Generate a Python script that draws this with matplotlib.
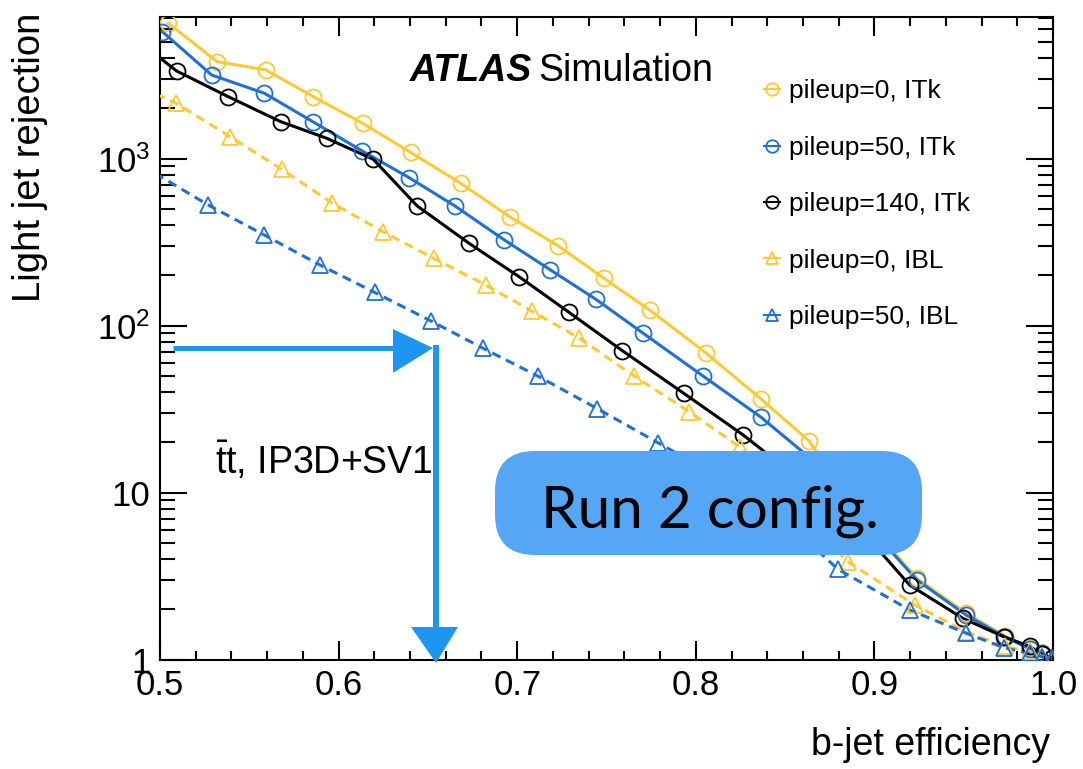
import math
import matplotlib
matplotlib.use("Agg")
import matplotlib.pyplot as plt
from matplotlib.patches import FancyBboxPatch, Polygon
from matplotlib.lines import Line2D
from matplotlib.transforms import IdentityTransform
from matplotlib.ticker import LogLocator, FuncFormatter, MultipleLocator, NullFormatter

# ---------------- data ----------------
eff_itk0 = [0.5046, 0.532, 0.5593, 0.5858, 0.6134, 0.6403, 0.6683, 0.6959, 0.7227, 0.7486,
            0.7742, 0.8055, 0.8365, 0.8632, 0.893, 0.9238, 0.9514, 0.9729, 0.9869, 0.9941, 0.9995]
rej_itk0 = [6470, 3810, 3400, 2350, 1630, 1090, 713, 448, 302, 192,
            124, 68.9, 36.4, 20.5, 7.3, 3.07, 1.90, 1.39, 1.17, 1.09, 1.02]

eff_itk50 = [0.5013, 0.5289, 0.5584, 0.5855, 0.6129, 0.6395, 0.6651, 0.6928, 0.7185, 0.7440,
             0.7707, 0.8040, 0.8365, 0.865, 0.895, 0.9238, 0.9514, 0.973, 0.987, 0.994, 0.9995]
rej_itk50 = [5760, 3170, 2465, 1667, 1117, 769, 521, 326, 216, 144,
             89.8, 50.0, 28.3, 15.8, 6.6, 3.00, 1.85, 1.37, 1.16, 1.09, 1.02]

eff_itk140 = [0.490, 0.5093, 0.5382, 0.5675, 0.5933, 0.6194, 0.6440, 0.6731, 0.7012, 0.7291,
              0.7589, 0.7932, 0.8264, 0.857, 0.889, 0.9197, 0.9495, 0.9726, 0.987, 0.994, 0.9995]
rej_itk140 = [4860, 3350, 2350, 1667, 1325, 991, 521, 311, 196, 120,
              70.8, 39.4, 22.2, 12.3, 6.6, 2.80, 1.77, 1.37, 1.20, 1.08, 1.02]

eff_ibl0 = [0.490, 0.509, 0.5392, 0.5681, 0.5961, 0.6246, 0.6533, 0.6824, 0.7084, 0.7346,
            0.7654, 0.7962, 0.8245, 0.855, 0.8852, 0.9225, 0.9514, 0.9729, 0.987, 0.994, 0.9995]
rej_ibl0 = [2650, 2148, 1355, 864, 545, 366, 253, 175, 122, 84.4,
            50.0, 30.6, 18.8, 8.0, 3.86, 2.13, 1.47, 1.20, 1.12, 1.05, 1.01]

eff_ibl50 = [0.490, 0.527, 0.5584, 0.5895, 0.6203, 0.6515, 0.6809, 0.7114, 0.7448, 0.7788,
             0.812, 0.846, 0.8796, 0.920, 0.9514, 0.9725, 0.987, 0.994, 0.9995]
rej_ibl50 = [908, 528, 349, 231, 158, 107, 73.2, 50.0, 31.9, 19.9,
             12.6, 7.4, 3.48, 1.98, 1.44, 1.18, 1.09, 1.04, 1.01]

labels = ["pileup=0, ITk", "pileup=50, ITk", "pileup=140, ITk", "pileup=0, IBL", "pileup=50, IBL"]
xticks = [0.5, 0.6, 0.7, 0.8, 0.9, 1.0]
xticklabels = ["0.5", "0.6", "0.7", "0.8", "0.9", "1.0"]

# ---------------- style ----------------
YEL = "#FFC933"
BLU = "#1E6FD6"
BLK = "#000000"
ARROW = "#1E96F0"
BOX = "#55A6F5"

plt.rcParams["font.family"] = ["Liberation Sans", "DejaVu Sans"]
plt.rcParams["mathtext.fontset"] = "custom"
plt.rcParams["mathtext.rm"] = "Liberation Sans"
plt.rcParams["mathtext.it"] = "Liberation Sans:italic"
plt.rcParams["mathtext.bf"] = "Liberation Sans:bold"

fig = plt.figure(figsize=(10.83, 7.69), dpi=100)
ax = fig.add_axes([160 / 1083, 1 - 659.7 / 769, (1053 - 160) / 1083, (659.7 - 17) / 769])

lw = 2.2
ms = 11.5
mew = 1.3
series = [
    (eff_itk0, rej_itk0, YEL, "o", "-"),
    (eff_itk50, rej_itk50, BLU, "o", "-"),
    (eff_itk140, rej_itk140, BLK, "o", "-"),
    (eff_ibl0, rej_ibl0, YEL, "^", (0, (3, 2))),
    (eff_ibl50, rej_ibl50, BLU, "^", (0, (3, 2))),
]
for (x, y, c, m, ls) in series:
    ax.plot(x, y, color=c, lw=lw, ls=ls, zorder=3)
    ax.plot(x, y, ls="none", marker=m, ms=ms if m == "o" else 11, mfc="none", mec=c, mew=mew, zorder=4)

ax.set_xlim(0.5, 1.0)
ax.set_yscale("log")
ax.set_ylim(1, 7050)

ax.xaxis.set_major_locator(plt.FixedLocator(xticks))
ax.set_xticklabels(xticklabels)
ax.xaxis.set_minor_locator(MultipleLocator(0.02))
ax.yaxis.set_major_locator(LogLocator(base=10, numticks=10))
ax.yaxis.set_minor_locator(LogLocator(base=10, subs=[2, 3, 4, 5, 6, 7, 8, 9], numticks=20))
ax.yaxis.set_minor_formatter(NullFormatter())


def yfmt(v, pos):
    if abs(v - 1) < 1e-9:
        return "1"
    if abs(v - 10) < 1e-9:
        return "10"
    n = int(round(math.log10(v)))
    return r"$10^{%d}$" % n


ax.yaxis.set_major_formatter(FuncFormatter(yfmt))

for s in ax.spines.values():
    s.set_linewidth(1.5)
ax.tick_params(axis="x", which="both", direction="in", top=True, bottom=True, width=1.5, labelsize=25, pad=7)
ax.tick_params(axis="x", which="major", length=13.5)
ax.tick_params(axis="x", which="minor", length=6.5)
ax.tick_params(axis="y", which="both", direction="in", left=True, right=True, width=1.5, labelsize=25, pad=7)
ax.tick_params(axis="y", which="major", length=19.5)
ax.tick_params(axis="y", which="minor", length=11)

# axis labels
fig.text(30 / 1083, 1 - 13 / 769, "Light jet rejection", rotation=90, ha="center", va="top", fontsize=27.5)
fig.text(1050 / 1083, 1 - 745 / 769, "b-jet efficiency", ha="right", va="center", fontsize=27)

# ATLAS label
fig.text(410 / 1083, 1 - 81 / 769, "ATLAS", fontsize=27, fontweight="bold", fontstyle="italic", va="baseline")
fig.text(538 / 1083, 1 - 81 / 769, "Simulation", fontsize=27, va="baseline")

# process label
fig.text(215 / 1083, 1 - 474 / 769, r"$\bar{\mathrm{t}}\mathrm{t}$, IP3D+SV1", fontsize=27, va="baseline")

# legend
handles = [Line2D([], [], color=c, lw=1.5, ls="-", marker=m, ms=9, mfc="none", mec=c, mew=1.3)
           for (_, _, c, m, _) in series]
leg = ax.legend(handles, labels, loc="upper left", bbox_to_anchor=(0.676, 0.903), frameon=False,
                fontsize=19, handlelength=0.6, handletextpad=0.35, labelspacing=1.23,
                borderpad=0, borderaxespad=0)

# Run 2 box
box = FancyBboxPatch((495, 769 - 555), 427, 104, boxstyle="round,pad=0,rounding_size=40",
                     transform=IdentityTransform(), fc=BOX, ec="none", zorder=10)
fig.add_artist(box)
fig.text(541 / 1083, 1 - 527 / 769, "Run 2 config.", fontsize=42, family="Lato", va="baseline",
         color="black", zorder=11)

# hand-drawn arrows
fig.add_artist(Line2D([173, 398], [769 - 348, 769 - 348], color=ARROW, lw=3.6,
                      transform=IdentityTransform(), zorder=12, solid_capstyle="butt"))
fig.add_artist(Polygon([[393, 769 - 329], [393, 769 - 373], [433, 769 - 348]], closed=True,
                       fc=ARROW, ec="none", transform=IdentityTransform(), zorder=12))
fig.add_artist(Line2D([436, 436], [769 - 345, 769 - 630], color=ARROW, lw=4.3,
                      transform=IdentityTransform(), zorder=12, solid_capstyle="butt"))
fig.add_artist(Polygon([[411, 769 - 627], [458, 769 - 627], [436, 769 - 663]], closed=True,
                       fc=ARROW, ec="none", transform=IdentityTransform(), zorder=12))

fig.savefig("out.png", dpi=100)
